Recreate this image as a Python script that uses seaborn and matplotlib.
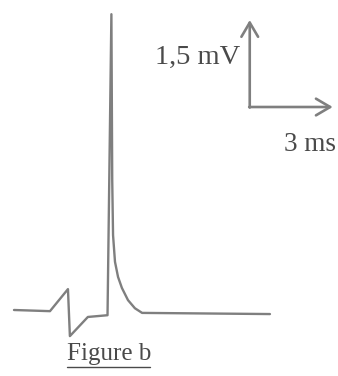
import matplotlib
matplotlib.use("Agg")
import matplotlib.pyplot as plt
import pandas as pd
import seaborn as sns

# recorded trace: stimulus artefact then action potential (ms, mV)
time_ms = [0.00, 1.30, 1.95, 2.02, 2.67, 3.38, 3.52, 3.55, 3.58, 3.65,
           3.76, 3.90, 4.12, 4.37, 4.63, 9.25]
potential_mv = [0.00, -0.02, 0.36, -0.45, -0.12, -0.09, 5.10, 2.24, 1.29, 0.83,
                0.57, 0.38, 0.17, 0.03, -0.05, -0.07]

# scale bar
bar_origin = (8.52, 3.50)
bar_time_ms = 3.0
bar_volt_mv = 1.5
bar_time_label = "3 ms"
bar_volt_label = "1,5 mV"
caption = "Figure b"

trace = pd.DataFrame({"t": time_ms, "v": potential_mv})

sns.set_theme(style="white")
plt.rcParams["font.family"] = ["Liberation Serif", "DejaVu Serif"]

line_col = "#7f7f7f"
text_col = "#4a4a4a"

fig = plt.figure(figsize=(3.38, 3.76), dpi=100)
ax = fig.add_axes([0, 0, 1, 1])

sns.lineplot(data=trace, x="t", y="v", sort=False, ax=ax,
             color=line_col, linewidth=1.7, estimator=None)

ox, oy = bar_origin
head = "->,head_length=0.85,head_width=0.5"
ax.annotate("", xy=(ox, oy + bar_volt_mv), xytext=(ox, oy - 0.01),
            arrowprops=dict(arrowstyle=head, color=line_col, lw=1.9,
                            shrinkA=0, shrinkB=0))
ax.annotate("", xy=(ox + bar_time_ms, oy), xytext=(ox - 0.02, oy),
            arrowprops=dict(arrowstyle=head, color=line_col, lw=1.9,
                            shrinkA=0, shrinkB=0))

ax.text(ox - 0.33, oy + 0.86, bar_volt_label, ha="right", va="center",
        fontsize=20.5, color=text_col)
ax.text(11.64, oy - 0.65, bar_time_label, ha="right", va="center",
        fontsize=19.5, color=text_col)

ax.text(0.198, 0.058, caption, transform=ax.transAxes, ha="left",
        va="center", fontsize=18, color=text_col)
ax.plot([0.198, 0.445], [0.023, 0.023], transform=ax.transAxes,
        color=text_col, lw=1.0)

ax.set_xlim(-0.506, 11.71)
ax.set_ylim(-1.138, 5.345)
ax.axis("off")

fig.savefig("out.png", dpi=100, facecolor="white")
